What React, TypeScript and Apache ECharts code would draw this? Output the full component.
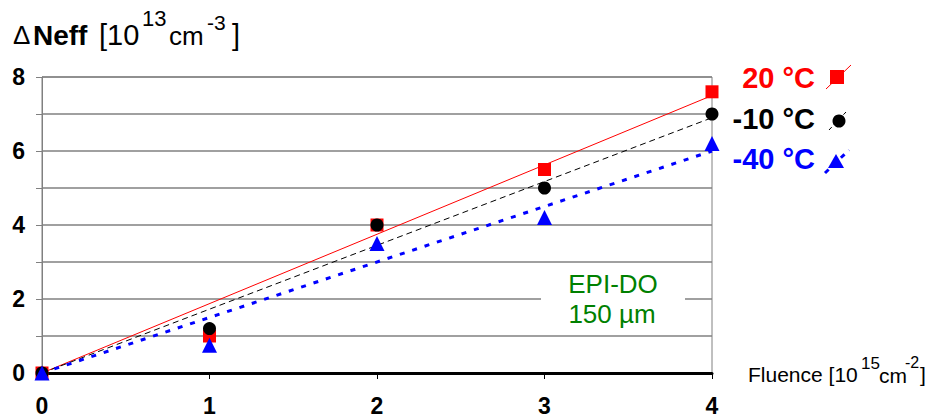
import React, { useEffect, useRef } from "react";
import * as echarts from "echarts";

const fluence = [0, 1, 2, 3, 4];
const neff20 = [0, 1.0, 4.0, 5.5, 7.6];
const neffM10 = [0, 1.2, 4.0, 5.0, 7.0];
const neffM40 = [0, 0.75, 3.5, 4.2, 6.2];
const fitX = [0, 4];
const fit20 = [0, 7.5];
const fitM10 = [0, 6.9];
const fitM40 = [0, 6.0];
const legendNames = ["20 °C", "-10 °C", "-40 °C"];
const yTicks = [0, 2, 4, 6, 8];

const RED = "#ff0000";
const BLUE = "#0000ff";
const BLACK = "#000000";
const GREEN = "#008000";
const FONT = "'Liberation Sans', Arial, sans-serif";

const pairs = (xs: number[], ys: number[]) => xs.map((x, i) => [x, ys[i]]);

const txt = (x: number, y: number, text: string, font: string, fill = "#000", align = "left", z = 5) => ({
  type: "text",
  x,
  y,
  z,
  style: { text, font: `${font} ${FONT}`, fill, textAlign: align, textVerticalAlign: "middle" },
});

export default function App() {
  const ref = useRef<HTMLDivElement>(null);
  useEffect(() => {
    const chart = echarts.init(ref.current!, null, { renderer: "svg" });
    const option: any = {
      animation: false,
      backgroundColor: "#ffffff",
      grid: {
        left: 42,
        right: 220,
        top: 77,
        bottom: 42,
        show: true,
        borderColor: "#808080",
        borderWidth: 1,
        backgroundColor: "transparent",
      },
      xAxis: {
        type: "value",
        min: 0,
        max: 4,
        interval: 1,
        axisLine: { show: true, onZero: false, lineStyle: { color: "#000", width: 3 } },
        axisTick: { show: true, inside: false, length: 6, lineStyle: { color: "#000", width: 1 } },
        splitLine: { show: false },
        axisLabel: {
          margin: 21,
          color: "#000",
          fontSize: 23,
          fontWeight: "bold",
          fontFamily: FONT,
        },
      },
      yAxis: {
        type: "value",
        min: 0,
        max: 8,
        interval: 1,
        axisLine: { show: true, lineStyle: { color: "#808080", width: 1 } },
        axisTick: { show: true, length: 6, lineStyle: { color: "#808080" } },
        splitLine: { show: true, lineStyle: { color: "#808080", width: 1.5 } },
        axisLabel: {
          margin: 17,
          color: "#000",
          fontSize: 23,
          fontWeight: "bold",
          fontFamily: FONT,
          formatter: (v: number) => (yTicks.includes(v) ? String(v) : ""),
        },
      },
      series: [
        {
          type: "line",
          data: pairs(fitX, fit20),
          showSymbol: false,
          lineStyle: { color: RED, width: 1 },
          z: 2,
        },
        {
          type: "line",
          data: pairs(fitX, fitM10),
          showSymbol: false,
          lineStyle: { color: BLACK, width: 1, type: [6, 4] },
          z: 2,
        },
        {
          type: "line",
          data: pairs(fitX, fitM40),
          showSymbol: false,
          lineStyle: { color: BLUE, width: 3, type: [5, 8] },
          z: 2,
        },
        {
          name: legendNames[0],
          type: "scatter",
          data: pairs(fluence, neff20),
          symbol: "rect",
          symbolSize: 13,
          itemStyle: { color: RED, opacity: 1 },
          z: 3,
        },
        {
          name: legendNames[1],
          type: "scatter",
          data: pairs(fluence, neffM10),
          symbol: "circle",
          symbolSize: 13,
          itemStyle: { color: BLACK, opacity: 1 },
          z: 4,
        },
        {
          name: legendNames[2],
          type: "scatter",
          data: pairs(fluence, neffM40),
          symbol: "triangle",
          symbolSize: 15,
          itemStyle: { color: BLUE, opacity: 1 },
          z: 5,
        },
      ],
      graphic: [
        // y-axis title
        txt(13, 35, "Δ", "26px"),
        txt(33, 35, "Neff", "bold 28px"),
        txt(99, 35, "[10", "29px"),
        txt(142, 18, "13", "22px"),
        txt(169, 36, "cm", "26px"),
        txt(207, 22, "-3", "21px"),
        txt(232, 35, "]", "29px"),
        // x-axis title
        txt(748, 374, "Fluence [10", "21px"),
        txt(861, 363, "15", "17px"),
        txt(879, 375, "cm", "21px"),
        txt(905, 362, "-2", "16px"),
        txt(920, 374, "]", "21px"),
        // annotation box
        {
          type: "rect",
          shape: { x: 541, y: 272, width: 144, height: 58 },
          style: { fill: "#ffffff" },
          z: 10,
        },
        txt(613, 284, "EPI-DO", "26px", GREEN, "center", 11),
        txt(612, 314, "150 µm", "26px", GREEN, "center", 11),
        // legend
        txt(815, 78, legendNames[0], "bold 29px", RED, "right"),
        txt(815, 119, legendNames[1], "bold 29px", BLACK, "right"),
        txt(815, 159, legendNames[2], "bold 29px", BLUE, "right"),
        { type: "line", shape: { x1: 826, y1: 89, x2: 851, y2: 65 }, style: { stroke: RED, lineWidth: 1 } },
        { type: "rect", shape: { x: 830, y: 70, width: 14, height: 14 }, style: { fill: RED } },
        { type: "line", shape: { x1: 829, y1: 130, x2: 846, y2: 112 }, style: { stroke: BLACK, lineWidth: 1, lineDash: [4, 3] } },
        { type: "circle", shape: { cx: 839, cy: 121, r: 6.5 }, style: { fill: BLACK } },
        { type: "line", shape: { x1: 825, y1: 173, x2: 849, y2: 150 }, style: { stroke: BLUE, lineWidth: 3, lineDash: [5, 6] } },
        { type: "polygon", shape: { points: [[836, 154], [844, 168], [828, 168]] }, style: { fill: BLUE } },
      ],
    };
    chart.setOption(option);
    return () => chart.dispose();
  }, []);
  return <div ref={ref} style={{ width: 932, height: 417, position: "absolute", left: 0, top: 0 }} />;
}
